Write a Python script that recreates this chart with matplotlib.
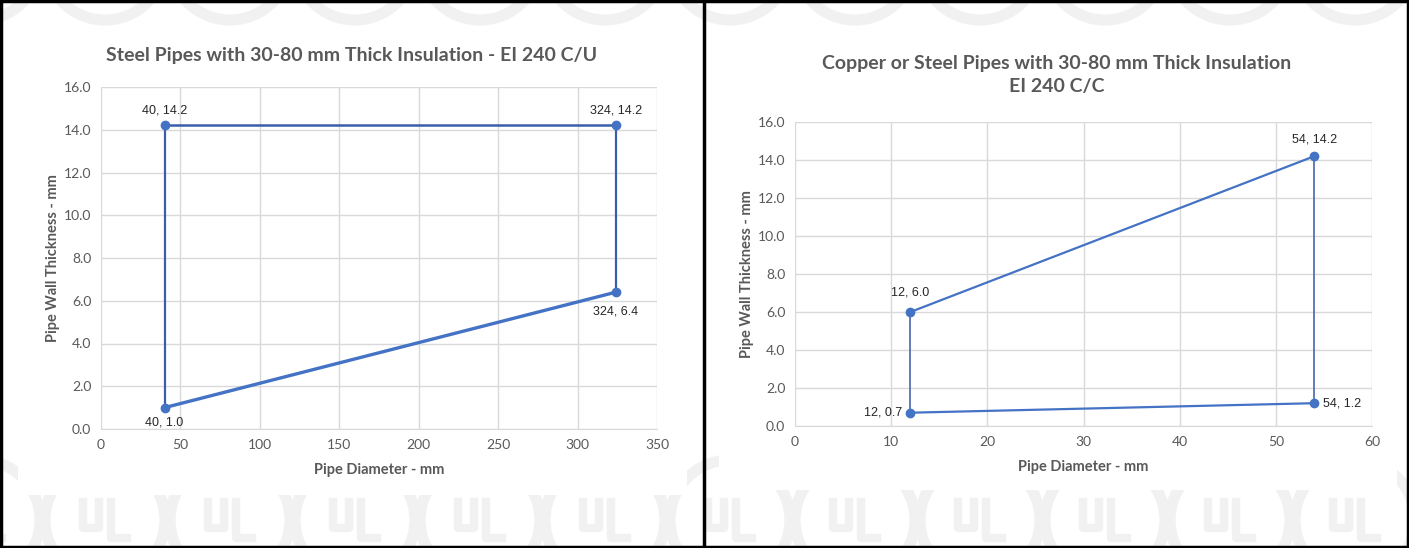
import matplotlib.pyplot as plt
from matplotlib.patches import Rectangle, Circle

# ---- data ----
left_x = [40, 40, 324, 324, 40]
left_y = [1.0, 14.2, 14.2, 6.4, 1.0]
left_title = "Steel Pipes with 30-80 mm Thick Insulation - EI 240 C/U"

right_x = [12, 12, 54, 54, 12]
right_y = [0.7, 6.0, 14.2, 1.2, 0.7]
right_title = "Copper or Steel Pipes with 30-80 mm Thick Insulation\nEI 240 C/C"

x_label = "Pipe Diameter - mm"
y_label = "Pipe Wall Thickness - mm"

W, H = 1409, 548
fig = plt.figure(figsize=(W / 100, H / 100), dpi=100)
fig.patch.set_facecolor("white")

TXT = "#595959"
GRID = "#d9d9d9"
WM = "#f1f1f1"


def px_axes(x0, y0, x1, y1, **kw):
    # pixel box (top-left origin) -> figure axes
    return fig.add_axes([x0 / W, 1 - y1 / H, (x1 - x0) / W, (y1 - y0) / H], **kw)


# background with faint watermark (drawn as shapes, not text)
bg = px_axes(0, 0, W, H)
bg.set_xlim(0, W)
bg.set_ylim(H, 0)
bg.axis("off")
for cy in [-40, 520]:
    for cx in range(-20, W + 120, 125):
        bg.add_patch(Circle((cx, cy), 60, fill=False, ec=WM, lw=8, zorder=1))
        # rough "U" and "L"
        bg.plot([cx - 22, cx - 22, cx - 6, cx - 6], [cy - 18, cy + 8, cy + 8, cy - 18],
                color=WM, lw=6, zorder=1)
        bg.plot([cx + 6, cx + 6, cx + 22], [cy - 18, cy + 18, cy + 18],
                color=WM, lw=6, zorder=1)

# white chart areas
bg.add_patch(Rectangle((18, 32), 669, 463, fc="white", ec="none", zorder=5))
bg.add_patch(Rectangle((719, 36), 678, 454, fc="white", ec="none", zorder=5))

# black frames
bg.add_patch(Rectangle((1, 1), W - 2, H - 2, fill=False, ec="black", lw=2.5, zorder=6))
bg.plot([703.5, 703.5], [0, H], color="black", lw=2.5, zorder=6)


def style(ax, xmax, xstep):
    ax.set_facecolor("none")
    ax.set_xlim(0, xmax)
    ax.set_ylim(0, 16)
    ax.set_xticks(range(0, xmax + 1, xstep))
    ax.set_yticks([0, 2, 4, 6, 8, 10, 12, 14, 16])
    ax.set_yticklabels([f"{v:.1f}" for v in ax.get_yticks()])
    ax.grid(True, color=GRID, lw=1)
    ax.set_axisbelow(True)
    for s in ["top", "right", "left"]:
        ax.spines[s].set_visible(False)
    ax.spines["bottom"].set_color(GRID)
    ax.tick_params(length=0, colors=TXT, labelsize=10, pad=7)
    for lab in ax.get_xticklabels() + ax.get_yticklabels():
        lab.set_family("Lato")
    ax.set_xlabel(x_label, fontsize=10.5, fontweight="bold", color=TXT,
                  family="Lato", labelpad=9)
    ax.set_ylabel(y_label, fontsize=10.5, fontweight="bold", color=TXT,
                  family="Lato", labelpad=3)


def draw(ax, xs, ys, colors, widths, offsets):
    for i in range(len(xs) - 1):
        ax.plot(xs[i:i + 2], ys[i:i + 2], color=colors[i], lw=widths[i],
                solid_capstyle="round", zorder=3)
    ax.scatter(xs[:-1], ys[:-1], s=36, color="#4472C4", zorder=4, clip_on=False)
    for (x, y), (dx, dy, ha) in zip(zip(xs[:-1], ys[:-1]), offsets):
        ax.annotate(f"{x}, {y:.1f}", (x, y), xytext=(dx, dy),
                    textcoords="offset points", ha=ha, va="center",
                    fontsize=9, color="#262626", family="Liberation Sans")


# left chart
ax1 = px_axes(101, 87, 657, 429)
style(ax1, 350, 50)
draw(ax1, left_x, left_y,
     ["#3B5EAB", "#3B5EAB", "#3B5EAB", "#4472C4"],
     [1.6, 1.8, 1.6, 2.4],
     [(0, -11, "center"), (0, 11, "center"), (0, 11, "center"), (0, -14, "center")])
fig.text(352 / W, 1 - 56 / H, left_title, ha="center", va="center",
         fontsize=14, fontweight="bold", color=TXT, family="Lato")

# right chart
ax2 = px_axes(795, 122, 1372, 426)
style(ax2, 60, 10)
draw(ax2, right_x, right_y,
     ["#5673B0", "#4472C4", "#5673B0", "#4472C4"],
     [1.3, 1.6, 1.3, 1.6],
     [(-6, 0, "right"), (0, 14, "center"), (0, 12, "center"), (6, 0, "left")])
fig.text(1057 / W, 1 - 75 / H, right_title, ha="center", va="center",
         fontsize=14, fontweight="bold", color=TXT, family="Lato",
         linespacing=1.45)

fig.savefig("out.png", dpi=100)
